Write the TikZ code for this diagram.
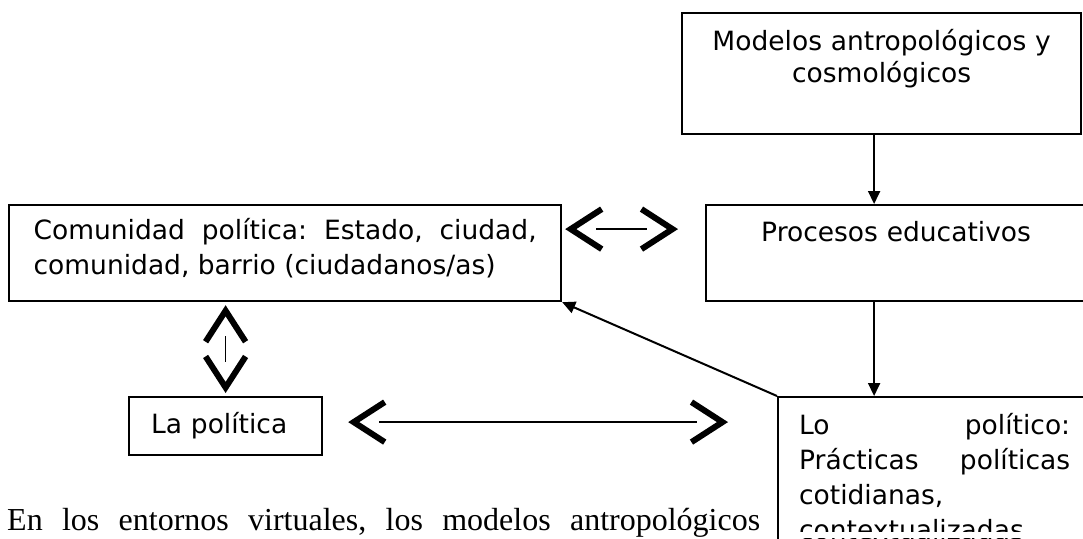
\documentclass[tikz,border=0pt]{standalone}
\usepackage{fontspec}
\setmainfont{Liberation Serif}
\newfontfamily\cajafont{DejaVu Sans}
\usetikzlibrary{arrows.meta,decorations.markings}
\tolerance=10000
\hyphenpenalty=10000
\frenchspacing

\begin{document}
\begin{tikzpicture}[x=1pt,y=-1pt]
    \def\lw{2.2pt}
    \tikzset{punta/.tip={Straight Barb[length=31pt,width=40pt,line width=6pt]}}
    \tikzstyle{caja} = [draw, line width=\lw, inner ysep=0pt, inner xsep=22pt, anchor=north west, font=\cajafont\fontsize{26.5}{35}\selectfont]
    \tikzstyle{conn} = [line width=2pt, -{Triangle[length=13pt,width=12pt]}]
    \tikzstyle{chev} = [line width=1.6pt, shorten <=31pt, shorten >=31pt, postaction={decorate},
        decoration={markings, mark=at position 0 with {\arrowreversed{punta}}, mark=at position 1 with {\arrow{punta}}}]
    \useasboundingbox (0,0) rectangle (1083,538);
    \clip (0,0) rectangle (1083,538);

    % cajas
    \node[caja, text width=355pt, align=center, text height=37pt, text depth=84pt,
          font=\cajafont\fontsize{26.5}{32}\selectfont] (modelos) at (681,12) {Modelos antropológicos y\\cosmológicos};
    \node[caja, text width=336pt, align=center, text height=36pt, text depth=60pt] (procesos) at (705,204) {Procesos educativos};
    \node[caja, inner xsep=24.5pt, text width=503pt, align=justify, text height=34pt, text depth=62pt] (comunidad) at (8,204)
        {Comunidad política: Estado, ciudad,\linebreak comunidad, barrio (ciudadanos/as)};
    \node[caja, text width=149pt, align=left, text height=36pt, text depth=22pt] (lapolitica) at (128,396) {La política};
    \node[caja, inner xsep=21pt, text width=271pt, align=justify, text height=37pt, text depth=150pt] (lopolitico) at (777,396)
        {Lo político:\linebreak Prácticas políticas\linebreak cotidianas,\linebreak contextualizadas};

    % flechas
    \draw[conn] ([xshift=-7.5pt]modelos.south) -- ([xshift=-7.5pt]modelos.south |- procesos.north);
    \draw[conn] ([xshift=-22pt]procesos.south) -- ([xshift=-22pt]procesos.south |- lopolitico.north);
    \draw[conn] (lopolitico.north west) -- (comunidad.south east);

    \draw[chev] ([xshift=3pt,yshift=24pt]comunidad.east) -- ([xshift=-27pt,yshift=24pt]procesos.west);
    \coordinate (varr) at (lapolitica.north |- comunidad.south);
    \draw[chev] ([yshift=-3pt]varr) -- ([yshift=3pt]lapolitica.north);
    \coordinate (hizq) at ([xshift=25pt,yshift=4pt]lapolitica.east);
    \coordinate (hder) at (lopolitico.west |- hizq);
    \draw[chev] (hizq) -- ([xshift=-49pt]hder);

    \node[anchor=base west, inner sep=0pt, font=\fontsize{32}{38}\selectfont] (entornos) at (7,530)
        {\makebox[753pt][s]{En los entornos virtuales, los modelos antropológicos}};

    % el cuadro corta la ultima linea
    \fill[white] ([xshift=\lw]lopolitico.north west |- 0,532) rectangle (current bounding box.south east);
\end{tikzpicture}
\end{document}
